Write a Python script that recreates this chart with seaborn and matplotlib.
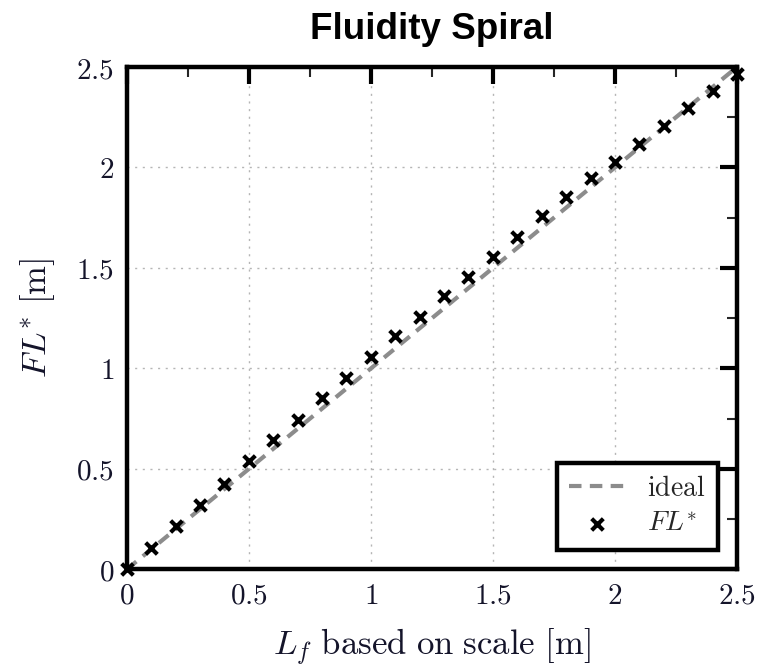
import numpy as np
import pandas as pd
import matplotlib
matplotlib.use("Agg")
import matplotlib.pyplot as plt
import seaborn as sns
from matplotlib.ticker import MultipleLocator

# Data
lf = [0.0, 0.1, 0.2, 0.3, 0.4, 0.5, 0.6, 0.7, 0.8, 0.9, 1.0, 1.1, 1.2,
      1.3, 1.4, 1.5, 1.6, 1.7, 1.8, 1.9, 2.0, 2.1, 2.2, 2.3, 2.4, 2.5]
fl_star = [0.0, 0.109, 0.215, 0.319, 0.427, 0.541, 0.643, 0.744, 0.852,
           0.954, 1.059, 1.162, 1.258, 1.361, 1.455, 1.556, 1.656, 1.759,
           1.855, 1.946, 2.029, 2.115, 2.206, 2.294, 2.382, 2.465]
ideal_x = [0.0, 2.5]
ideal_y = [0.0, 2.5]
ticks = [0, 0.5, 1, 1.5, 2, 2.5]
tick_labels = ["0", "0.5", "1", "1.5", "2", "2.5"]

sns.set_theme(style="white")
plt.rcParams["mathtext.fontset"] = "cm"
plt.rcParams["font.family"] = ["DejaVu Serif"]

fig = plt.figure(figsize=(7.57, 6.68), dpi=100)
ax = fig.add_axes([0.1674, 0.1475, 0.9736 - 0.1674, 0.8997 - 0.1475])

df_ideal = pd.DataFrame({"x": ideal_x, "y": ideal_y})
df_pts = pd.DataFrame({"x": lf, "y": fl_star})

sns.lineplot(data=df_ideal, x="x", y="y", ax=ax, color="#8c8c8c",
             linewidth=3, linestyle=(0, (3, 2)), label=r"$\mathrm{ideal}$",
             zorder=2)
sns.scatterplot(data=df_pts, x="x", y="y", ax=ax, marker="x", color="black",
                s=70, linewidth=3, label=r"$FL^{*}$", zorder=3, clip_on=False)

ax.set_xlim(0, 2.5)
ax.set_ylim(0, 2.5)
ax.set_xticks(ticks)
ax.set_yticks(ticks)
ax.set_xticklabels([f"${t}$" for t in tick_labels])
ax.set_yticklabels([f"${t}$" for t in tick_labels])
ax.xaxis.set_minor_locator(MultipleLocator(0.25))
ax.yaxis.set_minor_locator(MultipleLocator(0.25))

ax.tick_params(which="major", direction="in", length=12, width=3,
               top=True, right=True, labelsize=21, pad=9, colors="black")
ax.tick_params(which="minor", direction="in", length=7, width=1.5,
               top=True, right=True)
ax.tick_params(axis="both", which="major", labelcolor="#14142a")

for s in ax.spines.values():
    s.set_linewidth(3.2)
    s.set_color("black")

ax.grid(True, which="major", linestyle=(0, (1.5, 4)), color="#b5b5b5",
        linewidth=1)
ax.set_axisbelow(True)

ax.set_xlabel(r"$L_f\ \mathrm{based\ on\ scale\ [m]}$", fontsize=25,
              labelpad=12, color="#14142a")
ax.set_ylabel(r"$FL^{*}\ \mathrm{[m]}$", fontsize=25, labelpad=14,
              color="#14142a")

ax.set_title("Fluidity Spiral", fontsize=26.5, fontweight="bold",
             family=["Liberation Sans", "DejaVu Sans"], pad=20, color="black")

leg = ax.legend(loc="lower right", fontsize=20, frameon=True, fancybox=False,
                edgecolor="black", framealpha=1, borderpad=0.45,
                handlelength=2.0, handletextpad=0.8, labelspacing=0.3,
                borderaxespad=0, bbox_to_anchor=(0.969, 0.039))
leg.get_frame().set_linewidth(3.2)

fig.savefig("out.png", dpi=100)
